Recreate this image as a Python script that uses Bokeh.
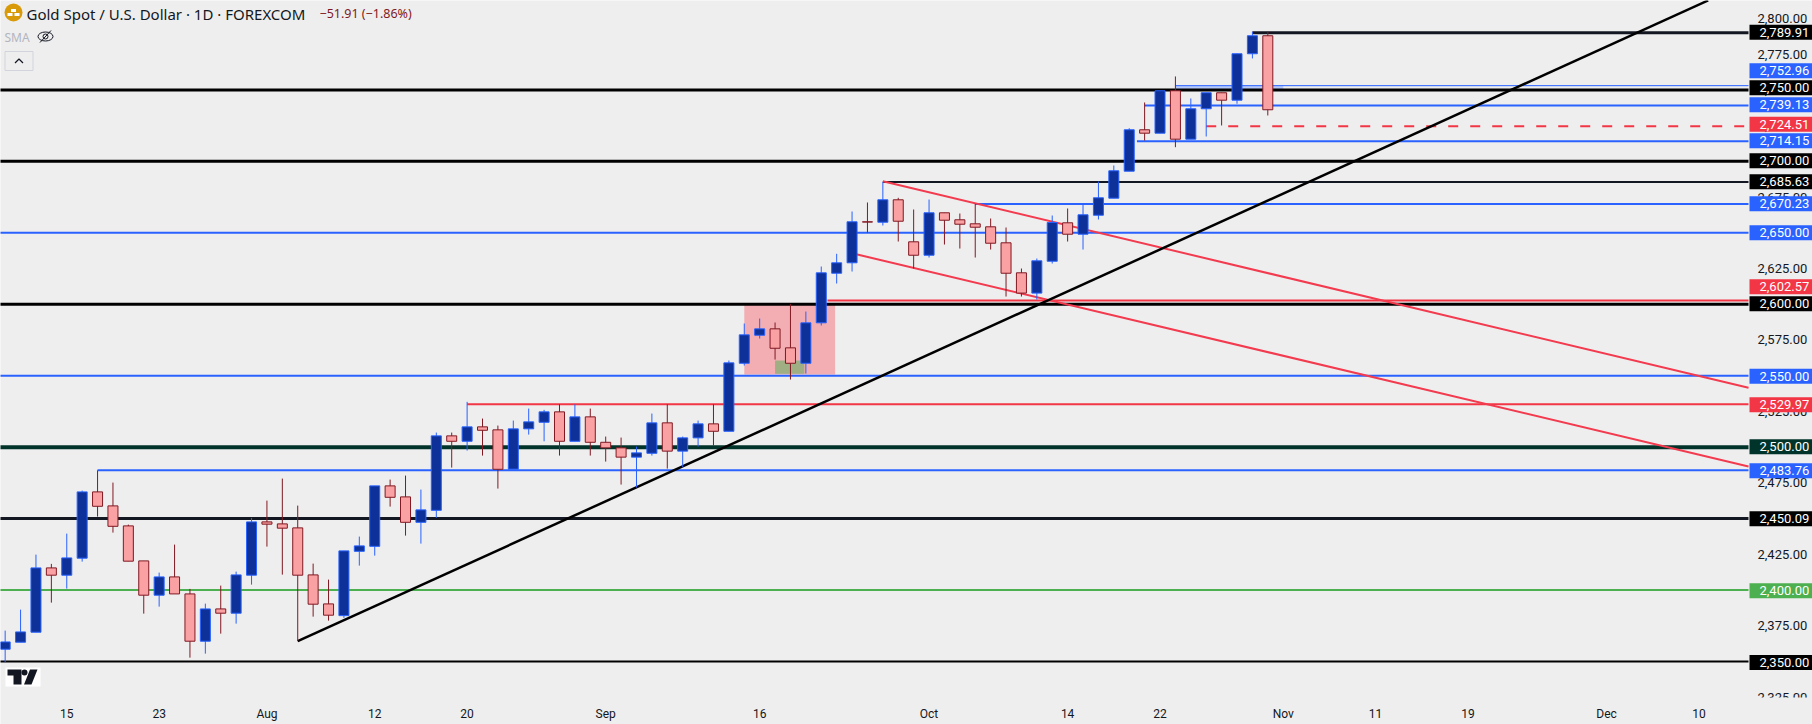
from bokeh.plotting import figure
from bokeh.models import Range1d, Label, FixedTicker, NumeralTickFormatter, LinearAxis
from bokeh.embed import file_html
from bokeh.resources import INLINE

# ---- OHLC, one row per daily candle (index = trading bar) ----
opens = [2358.6,2363.5,2370.5,2415.5,2410.4,2422.3,2468.7,2458.9,2444.9,2420.4,2396.4,2409.2,2397.3,2364.2,2386.8,2383.8,2410.4,2447.7,2446.3,2443.5,2410.6,2390.3,2382.1,2427.1,2430.6,2472.9,2465.2,2447.4,2455.8,2507.9,2504.1,2514.2,2512.1,2484.6,2512.8,2517.4,2524.7,2504.1,2521.2,2503.4,2499.5,2493.0,2495.7,2517.0,2497.2,2506.5,2516.3,2511.1,2558.7,2578.3,2582.8,2569.5,2558.7,2587.0,2621.7,2629.0,2657.7,2657.4,2673.1,2643.7,2634.3,2664.0,2659.1,2656.3,2654.2,2643.0,2622.0,2607.8,2630.1,2657.0,2649.0,2662.3,2674.2,2693.1,2722.1,2719.7,2749.4,2715.5,2736.8,2748.0,2742.8,2775.3,2787.9]
highs = [2371.6,2386.3,2424.8,2418.3,2439.5,2469.6,2483.76,2475.2,2445.8,2420.4,2412.2,2431.8,2400.8,2390.5,2403.1,2412.9,2450.5,2462.6,2478.0,2459.1,2418.5,2407.3,2427.4,2437.4,2472.9,2477.3,2480.1,2470.3,2510.2,2510.2,2531.7,2520.0,2515.1,2518.6,2527.0,2526.1,2529.97,2529.97,2527.0,2507.4,2506.7,2500.4,2523.5,2529.97,2507.4,2518.6,2529.97,2560.6,2586.5,2590.0,2587.2,2600.3,2594.9,2626.4,2635.3,2664.9,2671.2,2685.63,2674.5,2666.3,2673.3,2664.0,2663.5,2670.23,2660.0,2653.7,2625.0,2632.0,2662.1,2667.0,2670.3,2685.9,2697.1,2723.2,2741.2,2749.4,2759.4,2744.0,2748.0,2748.0,2775.3,2790.7,2790.7]
lows = [2349.5,2363.5,2370.5,2391.2,2401.0,2419.9,2451.4,2440.2,2420.2,2383.5,2388.4,2397.3,2352.7,2355.5,2369.5,2376.5,2403.8,2430.4,2410.8,2364.2,2381.4,2378.6,2380.5,2417.1,2424.1,2458.4,2438.1,2432.5,2450.5,2485.7,2497.6,2494.1,2471.0,2484.6,2508.8,2504.1,2494.1,2504.1,2494.1,2489.9,2473.8,2471.7,2494.1,2485.0,2486.0,2500.4,2501.1,2511.1,2557.1,2576.0,2561.3,2547.3,2551.5,2585.1,2614.5,2622.9,2650.2,2655.1,2643.9,2625.0,2632.7,2641.8,2639.0,2632.7,2638.3,2605.4,2605.4,2603.3,2628.5,2643.9,2638.3,2659.3,2674.2,2693.1,2714.6,2719.7,2709.9,2715.5,2717.4,2725.1,2740.3,2772.0,2732.1]
closes = [2363.7,2370.7,2415.5,2410.4,2422.5,2468.7,2458.6,2444.6,2420.2,2396.4,2409.2,2397.3,2364.2,2386.8,2383.8,2410.6,2447.7,2446.1,2443.3,2410.4,2390.1,2382.4,2427.4,2430.9,2472.9,2464.9,2447.4,2456.1,2507.9,2504.1,2514.2,2511.8,2484.5,2512.8,2517.7,2524.7,2504.1,2521.2,2503.4,2499.5,2493.0,2496.0,2517.0,2497.2,2506.5,2516.3,2511.1,2559.0,2578.6,2582.8,2569.2,2558.7,2587.0,2622.0,2629.0,2657.7,2657.5,2673.1,2658.1,2634.3,2664.0,2658.8,2656.0,2653.9,2642.7,2621.7,2607.8,2630.4,2657.2,2649.0,2662.6,2674.5,2693.4,2722.1,2719.7,2749.4,2715.5,2736.8,2748.0,2742.8,2775.3,2787.9,2736.1]

# ---- Levels ----
level_values = [2350.00,2400.00,2450.09,2483.76,2500.00,2529.97,2550.00,2600.00,2602.57,2650.00,2670.23,2685.63,2700.00,2714.15,2739.13,2750.00,2752.96,2789.91]
level_starts = [-1,-1,-1,6,-1,30,-1,-1,53.4,-1,63,57,-1,73.5,74,-1,76,81]
level_colors = ["#000000","#4caf50","#131722","#2962ff","#00332a","#f23645","#2962ff","#000000","#f23645","#2962ff","#2962ff","#131722","#000000","#2962ff","#2962ff","#000000","#2962ff","#131722"]
level_widths = [2,2,3,2,4,2,2,3,2,2,2,2,3,2,2,3,1,3]
last_price = 2724.51
last_price_start = 78

# Price tags on the scale: text, fill colour, centre pixel row of the tag
tag_texts = ["2,789.91","2,752.96","2,750.00","2,739.13","2,724.51","2,714.15","2,700.00","2,685.63","2,670.23","2,650.00","2,602.57","2,600.00","2,550.00","2,529.97","2,500.00","2,483.76","2,450.09","2,400.00","2,350.00"]
tag_colors = ["#000000","#2962ff","#000000","#2962ff","#f23645","#2962ff","#000000","#000000","#2962ff","#2962ff","#f23645","#000000","#2962ff","#f23645","#00332a","#2962ff","#000000","#4caf50","#000000"]
tag_rows = [31.7,70.3,87.3,104.3,123.7,140.3,160.3,181.3,203.3,232.3,286.3,303.3,375.7,404.3,446.3,470.3,518.3,590.3,662]

# Trend lines (bar index, price)
support_x = [19,110.6]; support_y = [2364.2,2812.6]
upper_x = [57,113.22]; upper_y = [2686.1,2541.5]
lower_x = [55,113.22]; lower_y = [2635.7,2486.5]

# Zones (bar index / price)
zone_left, zone_right, zone_top, zone_bottom = 48.0, 53.9, 2600.0, 2550.8
inner_left, inner_right, inner_top, inner_bottom = 50.0, 51.9, 2560.6, 2551.3
hi_left, hi_right, hi_top, hi_bottom = 76, 83.0, 2752.96, 2750.0

# Axis ticks
date_ticks = [4,10,17,24,30,39,49,60,69,75,83,89,95,104,110]
date_labels = ["15","23","Aug","12","20","Sep","16","Oct","14","22","Nov","11","19","Dec","10"]
price_ticks = [2325+25*i for i in range(20)]

# ---- Scale: pixel rows / columns of the page to data (for overlay furniture) ----
PX0, PXS = 4.67, 15.398
PY0, PYS = 661.0, 1.429
def X(px): return (px-PX0)/PXS
def Y(py): return 2350+(PY0-py)/PYS

BG = "#eeeeee"
TXT = "#131722"
FONT = "Roboto"

p = figure(width=1812, height=724, frame_width=1812, frame_height=724,
           x_range=Range1d(X(0),X(1812)), y_range=Range1d(Y(724),Y(0)),
           output_backend="svg", toolbar_location=None, y_axis_location=None, x_axis_location=None,
           background_fill_color=BG, border_fill_color=BG,
           min_border=0, outline_line_color=None)
p.grid.visible = False

ya = LinearAxis(fixed_location=X(1748), ticker=FixedTicker(ticks=price_ticks),
                formatter=NumeralTickFormatter(format="0,0.00"))
ya.axis_line_color=None; ya.major_tick_line_color=None; ya.minor_tick_line_color=None
ya.major_tick_out=0; ya.major_tick_in=0; ya.minor_tick_out=0; ya.minor_tick_in=0
ya.major_label_text_font=FONT; ya.major_label_text_font_size="13px"; ya.major_label_text_color=TXT
ya.major_label_standoff=9
p.add_layout(ya,"right")
xa = LinearAxis(fixed_location=Y(697), ticker=FixedTicker(ticks=date_ticks))
xa.major_label_overrides = {t:l for t,l in zip(date_ticks,date_labels)}
xa.axis_line_color=None; xa.major_tick_line_color=None; xa.minor_tick_line_color=None
xa.major_tick_out=0; xa.major_tick_in=0; xa.minor_tick_out=0; xa.minor_tick_in=0
xa.major_label_text_font=FONT; xa.major_label_text_font_size="12px"; xa.major_label_text_color=TXT
xa.major_label_standoff=9
p.add_layout(xa,"below")

# zones
p.quad(left=[zone_left],right=[zone_right],top=[zone_top],bottom=[zone_bottom],fill_color="#f2aeb3",line_color=None)
p.quad(left=[inner_left],right=[inner_right],top=[inner_top],bottom=[inner_bottom],fill_color="#a0ae84",line_color=None)
p.quad(left=[hi_left],right=[hi_right],top=[hi_top],bottom=[hi_bottom],fill_color="#b6c9fb",line_color=None)

# levels
xend = X(1748)
for v,s,c,w in zip(level_values,level_starts,level_colors,level_widths):
    p.line([s,xend],[v,v],line_color=c,line_width=w)
p.line([last_price_start,X(1745)],[last_price,last_price],line_color="#f23645",line_width=2,line_dash="10 12")

# trends
p.line(upper_x,upper_y,line_color="#f23b4f",line_width=2)
p.line(lower_x,lower_y,line_color="#f23b4f",line_width=2)
p.line(support_x,support_y,line_color="#000000",line_width=2.5)

# candles
idx = list(range(len(opens)))
for want,wick,fill,edge in ((True,"#2962ff","#0d3199","#2962ff"),(False,"#801922","#faa1a4","#801922")):
    ii=[i for i in idx if (closes[i]>opens[i])==want]
    p.segment(ii,[highs[i] for i in ii],ii,[lows[i] for i in ii],line_color=wick,line_width=1)
    p.vbar(x=ii,top=[max(opens[i],closes[i]) for i in ii],bottom=[min(opens[i],closes[i]) for i in ii],
           width=0.65,fill_color=fill,line_color=edge,line_width=1)

# cover of the price label that the time scale cuts
p.add_layout(Label(x=X(1749),y=Y(711),text=" ",text_font_size="12px",text_baseline="middle",
                   background_fill_color=BG,padding=(31,31,7,7)))
# tags
for t,c,r in zip(tag_texts,tag_colors,tag_rows):
    p.add_layout(Label(x=X(1749),y=Y(r),text=t,text_color="#ffffff",text_font=FONT,text_font_size="13px",
                       text_baseline="middle",text_align="left",background_fill_color=c,padding=(10,4,3,3)))

# header
p.add_layout(Label(x=X(26),y=Y(13),text="Gold Spot / U.S. Dollar · 1D · FOREXCOM",text_font="Noto Sans",
                   text_font_size="15px",text_color=TXT,text_baseline="middle"))
p.add_layout(Label(x=X(319),y=Y(13),text="−51.91 (−1.86%)",text_font="Noto Sans",
                   text_font_size="12.5px",text_color="#801922",text_baseline="middle"))
p.add_layout(Label(x=X(4),y=Y(36.5),text="SMA",text_font="Noto Sans",text_font_size="12px",
                   text_color="#b2b5be",text_baseline="middle"))
# header icons
p.scatter([X(13)],[Y(12)],size=18,marker="circle",fill_color="#d99a0a",line_color=None)
p.quad(left=[X(10.5),X(7),X(14)],right=[X(15.5),X(12),X(19)],top=[Y(8.5),Y(12.5),Y(12.5)],bottom=[Y(11.5),Y(15.5),Y(15.5)],fill_color="#ffffff",line_color=None)
p.ellipse([X(45)],[Y(36)],width=15,height=9,width_units="screen",height_units="screen",fill_color=None,line_color=TXT,line_width=1)
p.ellipse([X(45)],[Y(36)],width=5,height=5,width_units="screen",height_units="screen",fill_color=None,line_color=TXT,line_width=1)
p.line([X(39.5),X(50.5)],[Y(42),Y(30)],line_color=TXT,line_width=1)
p.quad(left=[X(4.5)],right=[X(32.5)],top=[Y(51)],bottom=[Y(70)],fill_color=None,line_color="#d1d4dc",line_width=1)
p.line([X(14.5),X(18.5),X(22.5)],[Y(62.5),Y(58.5),Y(62.5)],line_color=TXT,line_width=1.2)

# brand mark
p.quad(left=[X(5)],right=[X(40)],top=[Y(667)],bottom=[Y(686)],fill_color="#ffffff",line_color=None)
p.patch([X(7),X(21),X(21),X(13),X(13),X(7)] ,[Y(669),Y(669),Y(684),Y(684),Y(675),Y(675)],fill_color=TXT,line_color=None)
p.scatter([X(24)],[Y(672)],size=6,marker="circle",fill_color=TXT,line_color=None)
p.patch([X(29.5),X(37),X(31),X(23.5)],[Y(669),Y(669),Y(684),Y(684)],fill_color=TXT,line_color=None)

# settings glyph of the time scale
p.scatter([X(1781)],[Y(712)],size=14,marker="hex",fill_color=None,line_color=TXT,line_width=1)
p.scatter([X(1781)],[Y(712)],size=5,marker="circle",fill_color=None,line_color=TXT,line_width=1)

open("out.html","w").write(file_html(p,INLINE))
